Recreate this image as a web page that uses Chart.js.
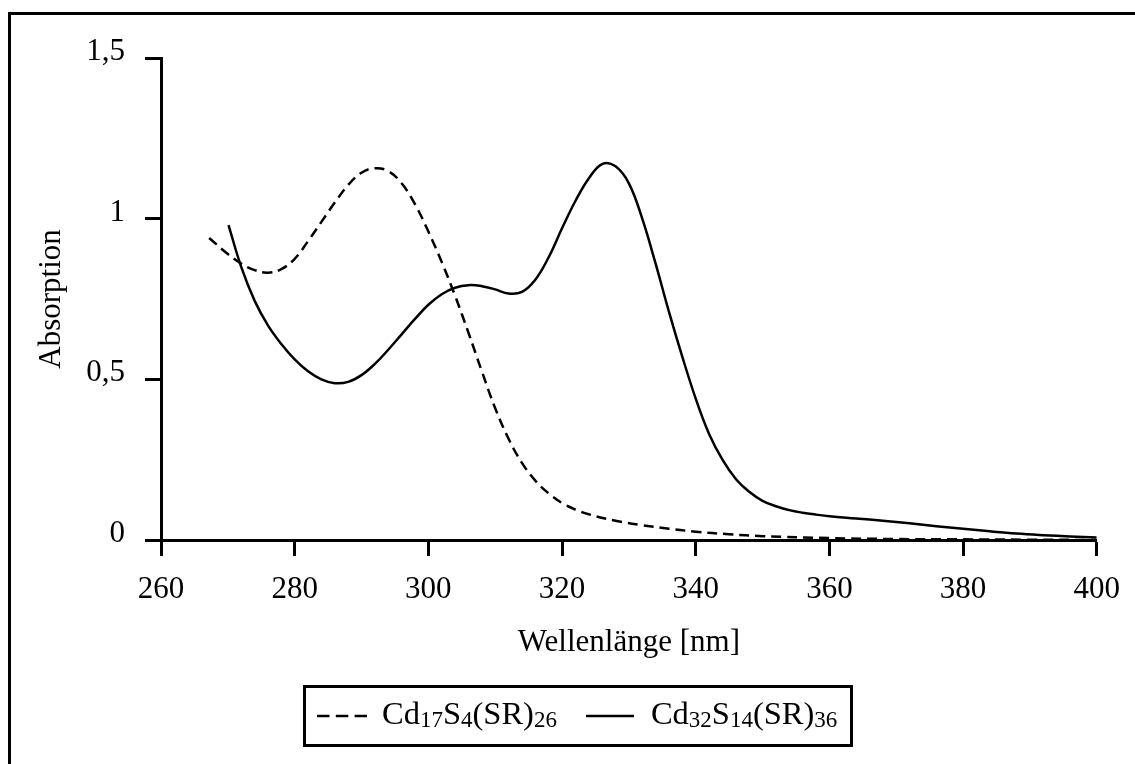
<!DOCTYPE html>
<html>
<head>
<meta charset="utf-8">
<script src="https://cdn.jsdelivr.net/npm/chart.js@4.4.1/dist/chart.umd.min.js"></script>
<style>
    html, body { margin: 0; padding: 0; background: #fff; overflow: hidden; }
    #frame {
        position: absolute; left: 8px; top: 12px;
        width: 1200px; height: 800px;
        border: 3px solid #000; box-sizing: border-box;
    }
    #chart { position: absolute; left: 0; top: 0; }
    #legend {
        position: absolute; left: 303px; top: 685px;
        width: 550px; height: 62px;
        border: 3px solid #000; box-sizing: border-box;
        display: flex; align-items: center;
        padding-left: 11px;
        font-family: 'Liberation Serif', 'Times New Roman', serif;
        font-size: 32.5px; color: #000;
    }
    #legend .label { position: relative; top: -3px; white-space: nowrap; line-height: 1; }
    #legend sub { font-size: 23px; vertical-align: -3px; line-height: 0; }
    #legend svg { display: block; }
</style>
</head>
<body>
<div id="frame"></div>
<canvas id="chart" width="1135" height="764"></canvas>
<div id="legend"></div>

<script>
// Cd17S4(SR)26 - dashed
const cd17Wavelength = [267.2, 270, 272, 274, 276, 278, 280, 282, 284, 286, 288, 290, 292, 294, 296, 298, 300, 302, 304, 306, 308, 310, 312, 314, 316, 318, 320, 322, 324, 328, 332, 336, 340, 345, 350, 360, 370, 380, 390, 400];
const cd17Absorption = [0.94, 0.89, 0.86, 0.84, 0.832, 0.843, 0.875, 0.93, 0.99, 1.05, 1.105, 1.143, 1.157, 1.148, 1.11, 1.045, 0.96, 0.865, 0.76, 0.645, 0.525, 0.41, 0.315, 0.24, 0.185, 0.145, 0.115, 0.095, 0.08, 0.06, 0.046, 0.035, 0.026, 0.018, 0.012, 0.006, 0.003, 0.002, 0.001, 0.0];

// Cd32S14(SR)36 - solid
const cd32Wavelength = [270.1, 272, 274, 276, 278, 280, 282, 284, 286, 288, 290, 292, 294, 296, 298, 300, 302, 304, 306, 308, 310, 312, 314, 316, 318, 320, 322, 324, 326, 328, 330, 332, 334, 336, 338, 340, 342, 344, 346, 348, 350, 352, 354, 356, 358, 360, 364, 368, 372, 376, 380, 384, 388, 392, 396, 400];
const cd32Absorption = [0.98, 0.85, 0.745, 0.668, 0.61, 0.562, 0.525, 0.5, 0.488, 0.492, 0.513, 0.548, 0.592, 0.64, 0.688, 0.732, 0.765, 0.785, 0.793, 0.79, 0.78, 0.767, 0.772, 0.81, 0.88, 0.97, 1.055, 1.125, 1.17, 1.163, 1.11, 1.0, 0.86, 0.71, 0.57, 0.44, 0.33, 0.25, 0.19, 0.15, 0.122, 0.105, 0.093, 0.085, 0.079, 0.074, 0.067, 0.06, 0.052, 0.043, 0.035, 0.027, 0.02, 0.015, 0.011, 0.008];

const seriesNames = ['Cd17S4(SR)26', 'Cd32S14(SR)36'];
const seriesLegendHtml = ['Cd<sub>17</sub>S<sub>4</sub>(SR)<sub>26</sub>', 'Cd<sub>32</sub>S<sub>14</sub>(SR)<sub>36</sub>'];

const xTickValues = [260, 280, 300, 320, 340, 360, 380, 400];
const yTickValues = [0, 0.5, 1, 1.5];
const yTickLabels = ['0', '0,5', '1', '1,5'];

Chart.defaults.font.family = "'Liberation Serif', 'Times New Roman', serif";
Chart.defaults.color = '#000';

const toPoints = (xs, ys) => xs.map((x, i) => ({ x: x, y: ys[i] }));

const ctx = document.getElementById('chart').getContext('2d');
new Chart(ctx, {
    type: 'line',
    data: {
        datasets: [{
            label: seriesNames[0],
            data: toPoints(cd17Wavelength, cd17Absorption),
            borderColor: '#000',
            borderWidth: 2.5,
            borderDash: [10, 6],
            pointRadius: 0,
            fill: false,
            tension: 0.4
        }, {
            label: seriesNames[1],
            data: toPoints(cd32Wavelength, cd32Absorption),
            borderColor: '#000',
            borderWidth: 2.5,
            pointRadius: 0,
            fill: false,
            tension: 0.4
        }]
    },
    options: {
        responsive: false,
        devicePixelRatio: 1,
        animation: false,
        layout: { padding: { left: 0, top: 58, right: 38, bottom: 0 } },
        plugins: {
            legend: { display: false },
            tooltip: { enabled: false }
        },
        scales: {
            x: {
                type: 'linear',
                min: 260,
                max: 400,
                afterBuildTicks: (scale) => { scale.ticks = xTickValues.map(v => ({ value: v })); },
                afterFit: (scale) => { scale.height = 224; },
                grid: { drawOnChartArea: false, drawTicks: true, tickLength: 16, tickColor: '#000', tickWidth: 3 },
                border: { display: true, color: '#000', width: 3 },
                ticks: { font: { size: 31 }, padding: 15, maxRotation: 0 },
                title: {
                    display: true,
                    text: 'Wellenlänge [nm]',
                    font: { size: 31 },
                    padding: { top: 0, bottom: 103 }
                }
            },
            y: {
                type: 'linear',
                min: 0,
                max: 1.5,
                afterBuildTicks: (scale) => { scale.ticks = yTickValues.map(v => ({ value: v })); },
                afterFit: (scale) => { scale.width = 161; },
                grid: { drawOnChartArea: false, drawTicks: true, tickLength: 16, tickColor: '#000', tickWidth: 3 },
                border: { display: true, color: '#000', width: 3 },
                ticks: {
                    font: { size: 31 },
                    padding: 20,
                    labelOffset: -6,
                    callback: (value) => {
                        const i = yTickValues.indexOf(value);
                        return i >= 0 ? yTickLabels[i] : '';
                    }
                },
                title: {
                    display: true,
                    text: 'Absorption',
                    font: { size: 31 },
                    padding: { top: 33, bottom: 0 }
                }
            }
        }
    }
});

// legend with subscripts
const legendBox = document.getElementById('legend');
legendBox.innerHTML = `
    <svg width="50" height="6"><line x1="0" y1="3" x2="50" y2="3" stroke="#000" stroke-width="2.5" stroke-dasharray="12.5 6.3"/></svg>
    <span class="label" style="margin-left:15px">${seriesLegendHtml[0]}</span>
    <svg width="48" height="6" style="margin-left:29px"><line x1="0" y1="3" x2="48" y2="3" stroke="#000" stroke-width="2.5"/></svg>
    <span class="label" style="margin-left:17px">${seriesLegendHtml[1]}</span>
`;
</script>
</body>
</html>
